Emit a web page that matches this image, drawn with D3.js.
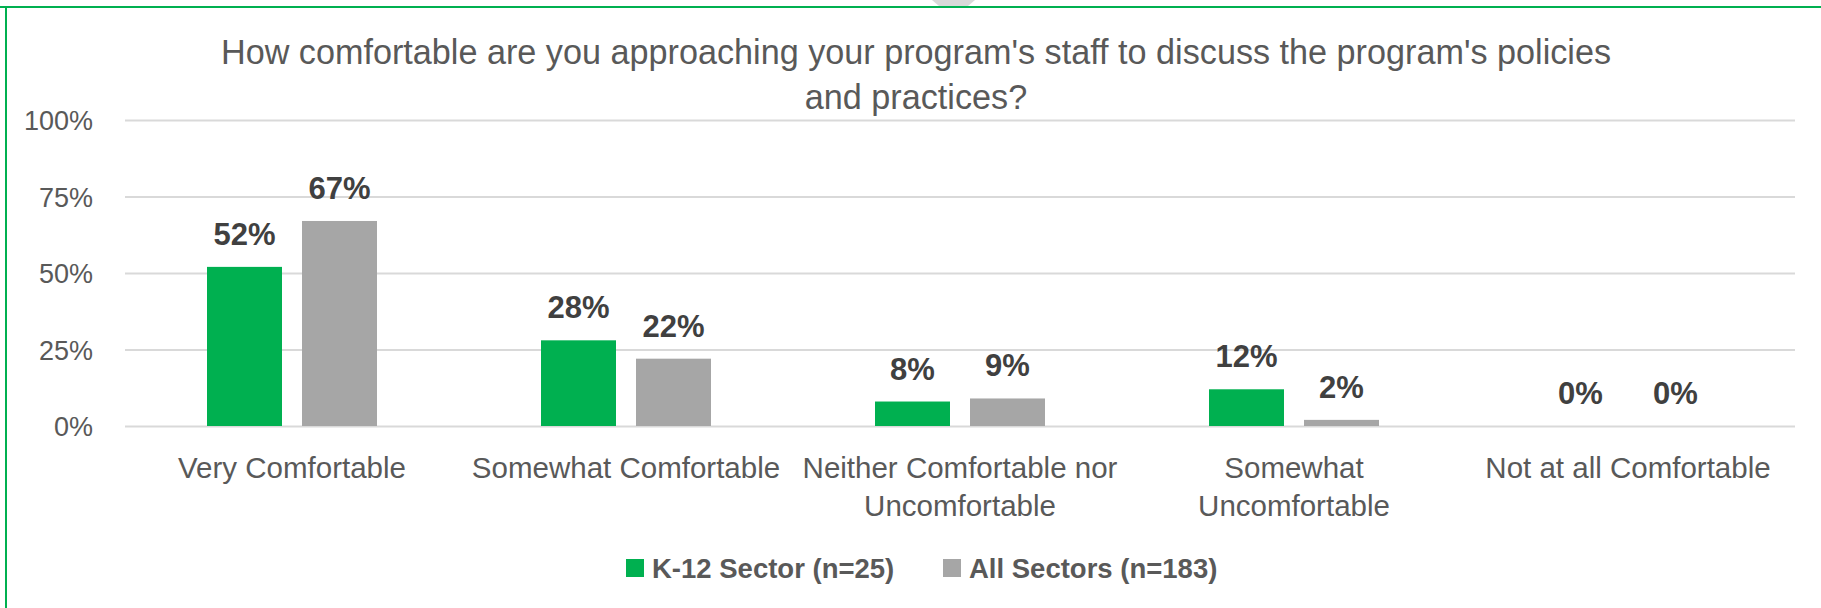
<!DOCTYPE html>
<html>
<head>
<meta charset="utf-8">
<script src="https://d3js.org/d3.v7.min.js"></script>
<style>
body { margin: 0; background: #fff; }
text { font-family: "Liberation Sans", Arial, sans-serif; }
.grid line { stroke: #d9d9d9; stroke-width: 2; }
.ytick text { fill: #595959; font-size: 27px; }
.cat { fill: #595959; font-size: 29.5px; }
.title { fill: #595959; font-size: 34.2px; }
.vlabel { fill: #404040; font-size: 31px; font-weight: bold; }
.legend { fill: #595959; font-size: 27.5px; font-weight: bold; }
</style>
</head>
<body>
<svg id="chart"></svg>
<script>
// data
var categories = ["Very Comfortable", "Somewhat Comfortable", "Neither Comfortable nor Uncomfortable", "Somewhat Uncomfortable", "Not at all Comfortable"];
var catLines = [["Very Comfortable"], ["Somewhat Comfortable"], ["Neither Comfortable nor", "Uncomfortable"], ["Somewhat", "Uncomfortable"], ["Not at all Comfortable"]];
var seriesNames = ["K-12 Sector (n=25)", "All Sectors (n=183)"];
var k12 = [0.52, 0.28, 0.08, 0.12, 0.00];
var allSectors = [0.67, 0.22, 0.09, 0.02, 0.00];
var yTicks = [0, 0.25, 0.5, 0.75, 1];
var titleLines = ["How comfortable are you approaching your program's staff to discuss the program's policies", "and practices?"];
var colors = ["#00b050", "#a6a6a6"];

var W = 1821, H = 608;
var plotLeft = 125, plotRight = 1795, plotTop = 120, plotBottom = 426;

var svg = d3.select("#chart").attr("width", W).attr("height", H);

// frame: top and left green border + little grey tab
svg.append("polygon")
    .attr("points", "932,0 975,0 968,6 939,6")
    .attr("fill", "#d9d9d9");
svg.append("line").attr("x1", 0).attr("x2", W).attr("y1", 7).attr("y2", 7)
    .attr("stroke", "#00b050").attr("stroke-width", 2);
svg.append("line").attr("x1", 6).attr("x2", 6).attr("y1", 6).attr("y2", H)
    .attr("stroke", "#00b050").attr("stroke-width", 2);

var x = d3.scaleBand().domain(categories).range([plotLeft, plotRight]);
var y = d3.scaleLinear().domain([0, 1]).range([plotBottom, plotTop]);
var xs = d3.scaleBand().domain(seriesNames).range([-85, 85]).paddingInner(20 / 95);

// title
svg.append("text").attr("class", "title")
    .attr("text-anchor", "middle")
    .selectAll("tspan").data(titleLines).enter().append("tspan")
    .attr("x", 916).attr("y", function(d, i) { return 64 + i * 45; })
    .text(function(d) { return d; });

// y axis with gridlines
var yAxis = svg.append("g")
    .attr("class", "grid ytick")
    .attr("transform", "translate(" + plotLeft + ",0)")
    .call(d3.axisLeft(y).tickValues(yTicks).tickFormat(d3.format(".0%"))
        .tickSize(-(plotRight - plotLeft)).tickPadding(32));
yAxis.select(".domain").remove();
yAxis.selectAll("text").attr("dy", "0.36em");

// bars
var rows = categories.map(function(c, i) {
    return { cat: c, vals: [k12[i], allSectors[i]] };
});
var groups = svg.append("g").selectAll("g").data(rows).enter().append("g")
    .attr("transform", function(d) { return "translate(" + (x(d.cat) + x.bandwidth() / 2) + ",0)"; });

groups.selectAll("rect")
    .data(function(d) { return d.vals.map(function(v, j) { return { s: seriesNames[j], v: v, j: j }; }); })
    .enter().append("rect")
    .attr("x", function(d) { return xs(d.s); })
    .attr("width", xs.bandwidth())
    .attr("y", function(d) { return y(d.v); })
    .attr("height", function(d) { return y(0) - y(d.v); })
    .attr("fill", function(d) { return colors[d.j]; });

groups.selectAll(".vlabel")
    .data(function(d) { return d.vals.map(function(v, j) { return { s: seriesNames[j], v: v }; }); })
    .enter().append("text")
    .attr("class", "vlabel")
    .attr("text-anchor", "middle")
    .attr("x", function(d) { return xs(d.s) + xs.bandwidth() / 2; })
    .attr("y", function(d) { return y(d.v) - 22; })
    .text(function(d) { return d3.format(".0%")(d.v); });

// category labels
svg.append("g").selectAll("text").data(categories).enter().append("text")
    .attr("class", "cat")
    .attr("text-anchor", "middle")
    .each(function(c, i) {
        var t = d3.select(this);
        var cx = x(c) + x.bandwidth() / 2;
        catLines[i].forEach(function(line, k) {
            t.append("tspan").attr("x", cx).attr("y", 478 + k * 38).text(line);
        });
    });

// legend
var legendX = [626, 943];
var lg = svg.append("g").selectAll("g").data(seriesNames).enter().append("g")
    .attr("transform", function(d, i) { return "translate(" + legendX[i] + ",0)"; });
lg.append("rect").attr("x", 0).attr("y", 559).attr("width", 18).attr("height", 18)
    .attr("fill", function(d, i) { return colors[i]; });
lg.append("text").attr("class", "legend")
    .attr("x", 26).attr("y", 578)
    .text(function(d) { return d; });
</script>
</body>
</html>
